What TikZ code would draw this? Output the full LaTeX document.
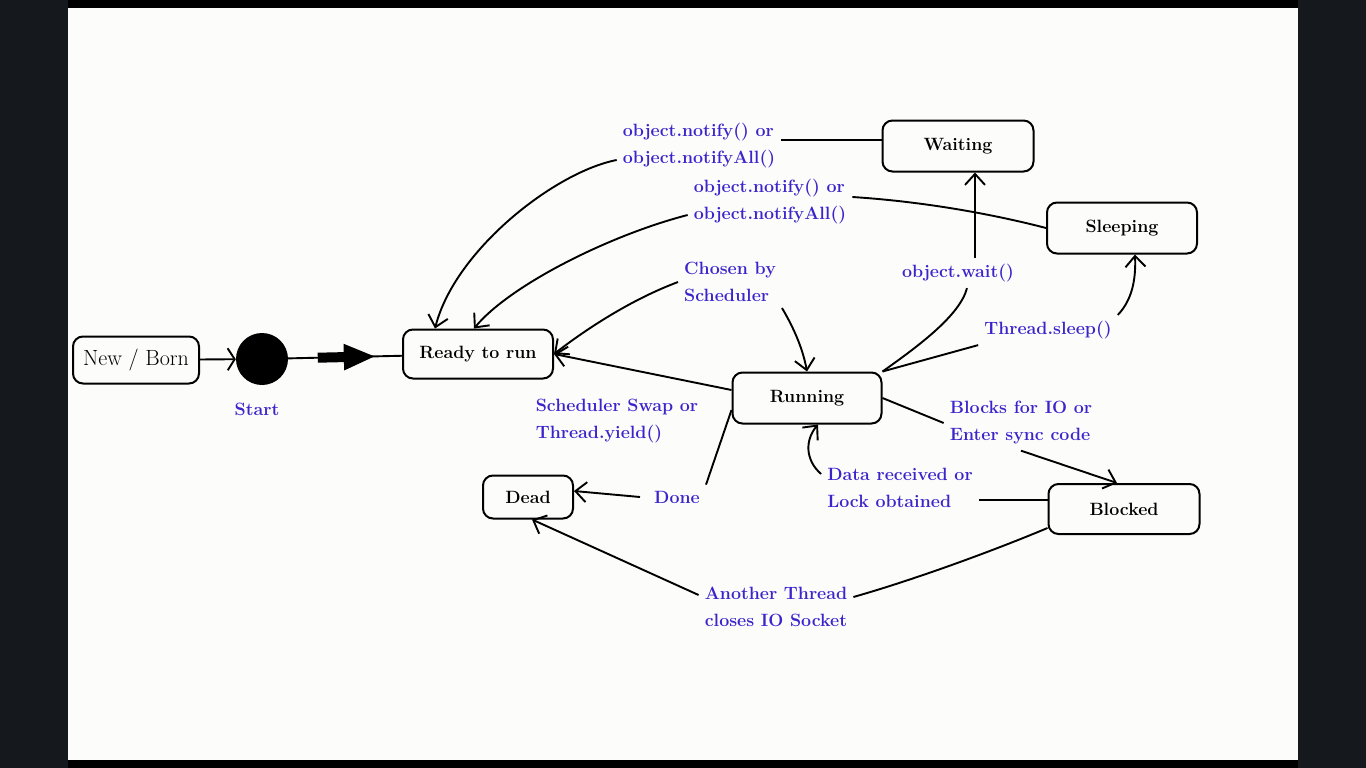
\documentclass[tikz,border=0pt]{standalone}
\usepackage{tikz}
\usetikzlibrary{arrows.meta}

\definecolor{lblue}{RGB}{60,36,204}
\definecolor{screen}{RGB}{21,25,30}
\definecolor{paper}{RGB}{252,252,250}

\begin{document}
\begin{tikzpicture}[x=1pt, y=-1pt,
    state/.style={draw, line width=2pt, rounded corners=10pt, font=\fontsize{17.8}{22}\selectfont\bfseries},
    note/.style={text=lblue, align=left, inner sep=6pt, font=\fontsize{17.8}{27}\selectfont\bfseries},
    con/.style={line width=1.9pt},
    arr/.style={line width=1.9pt, -{Straight Barb[length=11pt,width=20pt]}}]
    % Screen frame
    \fill[screen] (0,0) rectangle (1366,768);
    \fill[black] (68,0) rectangle (1298,768);
    \fill[paper] (68,8) rectangle (1298,760);
    \useasboundingbox (0,0) rectangle (1366,768);

    % States
    \node[state, minimum width=126pt, minimum height=47pt, font=\fontsize{22}{26}\selectfont] (born) at (136,360) {New / Born};
    \node[circle, fill, minimum size=52pt, inner sep=0pt] (start) at (262,359) {};
    \node[note] (startlbl) at (257,409) {Start};
    \node[state, minimum width=150pt, minimum height=49pt] (ready) at (478,354) {Ready to run};
    \node[state, minimum width=151pt, minimum height=51pt] (waiting) at (958,146) {Waiting};
    \node[state, minimum width=150pt, minimum height=51pt] (sleeping) at (1122,228) {Sleeping};
    \node[state, minimum width=149pt, minimum height=51pt] (running) at (807,398) {Running};
    \node[state, minimum width=151pt, minimum height=50pt] (blocked) at (1124,509) {Blocked};
    \node[state, minimum width=90pt, minimum height=43pt] (dead) at (528,497) {Dead};

    % Transition labels
    \node[note] (nota) at (699,146) {object.notify() or\\object.notifyAll()};
    \node[note] (notb) at (770,202) {object.notify() or\\object.notifyAll()};
    \node[note] (chosen) at (730,282) {Chosen by\\Scheduler};
    \node[note] (wait) at (958,273) {object.wait()};
    \node[note] (sleep) at (1048,330) {Thread.sleep()};
    \node[note] (swap) at (617,421) {Scheduler Swap or\\Thread.yield()};
    \node[note] (blocks) at (1021,423) {Blocks for IO or\\Enter sync code};
    \node[note] (data) at (900,488) {Data received or\\Lock obtained};
    \node[note] (done) at (677,497) {Done};
    \node[note] (another) at (776,607) {Another Thread\\closes IO Socket};

    % New -> Start -> Ready
    \draw[con, -{Straight Barb[length=7pt,width=22pt]}] (born) -- (start);
    \draw[con] (start) -- (ready) coordinate[pos=0.26] (bs) coordinate[pos=0.77] (be);
    \draw[line width=10pt, -{Triangle[length=32pt,width=24pt]}] (bs) -- (be);

    % Waiting back to Ready
    \coordinate (w1) at ([yshift=6pt]waiting.west);
    \draw[con] (w1) -- (w1 -| nota.east);
    \draw[arr] ([yshift=-14pt]nota.west) .. controls (555,172) and (455,250) .. ([xshift=-43pt]ready.north);

    % Sleeping back to Ready
    \draw[con] (sleeping.west) .. controls (1000,216) and (930,202) .. ([yshift=5pt]notb.east);
    \draw[arr] ([yshift=-13pt]notb.west) .. controls (610,235) and (510,285) .. ([xshift=-4pt]ready.north);

    % Scheduler
    \draw[arr] (chosen.west) .. controls (630,300) and (585,330) .. (ready.east);
    \draw[arr] (chosen.south east) .. controls (795,330) and (803,350) .. (running.north);
    \draw[arr] ([yshift=8pt]running.west) -- (ready.east);

    % Running -> Waiting
    \draw[con] (running.north east) .. controls (920,345) and (960,315) .. ([xshift=9pt]wait.south);
    \coordinate (w2) at ([xshift=17pt]wait.north);
    \draw[arr] (w2) -- (w2 |- waiting.south);

    % Running -> Sleeping
    \draw[con] (running.north east) -- (sleep.south west);
    \draw[arr] (sleep.north east) .. controls (1132,300) and (1136,280) .. ([xshift=13pt]sleeping.south);

    % Running <-> Blocked
    \draw[con] (running.east) -- (blocks.west);
    \draw[arr] (blocks.south) -- ([xshift=-7pt]blocked.north);
    \coordinate (b1) at ([yshift=9pt]blocked.west);
    \draw[con] (b1) -- (b1 -| data.east);
    \draw[arr] ([yshift=14pt]data.west) .. controls (805,460) and (805,440) .. ([xshift=11pt]running.south);

    % To Dead
    \draw[con] ([yshift=-12pt]running.west) -- (done.north east);
    \draw[arr] ([xshift=-8pt]done.west) -- ([yshift=6pt]dead.east);
    \draw[con] ([yshift=7pt]blocked.south west) .. controls (1000,548) and (920,578) .. ([yshift=10pt]another.east);
    \draw[arr] ([yshift=12pt]another.west) -- ([xshift=4pt]dead.south);
\end{tikzpicture}
\end{document}
